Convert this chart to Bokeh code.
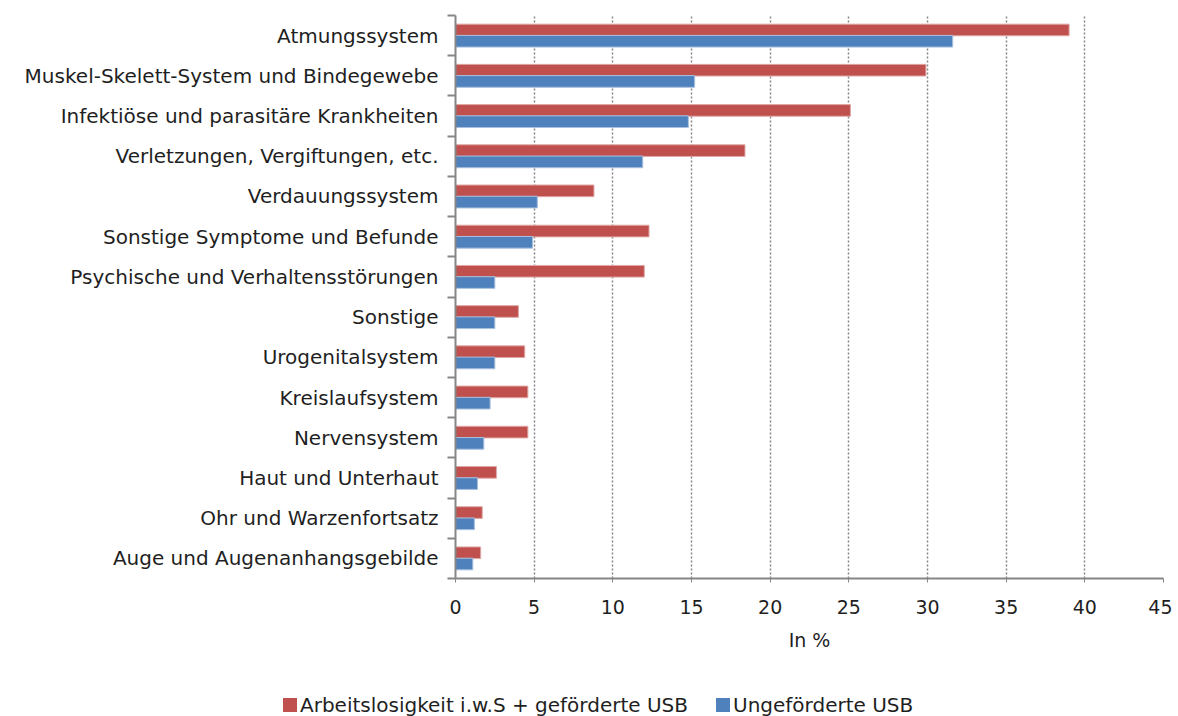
from bokeh.plotting import figure
from bokeh.layouts import column
from bokeh.models import (Range1d, LinearAxis, FixedTicker, ColumnDataSource, Div)
from bokeh.transform import dodge
from bokeh.embed import file_html
from bokeh.resources import INLINE

categories = [
    "Atmungssystem",
    "Muskel-Skelett-System und Bindegewebe",
    "Infektiöse und parasitäre Krankheiten",
    "Verletzungen, Vergiftungen, etc.",
    "Verdauungssystem",
    "Sonstige Symptome und Befunde",
    "Psychische und Verhaltensstörungen",
    "Sonstige",
    "Urogenitalsystem",
    "Kreislaufsystem",
    "Nervensystem",
    "Haut und Unterhaut",
    "Ohr und Warzenfortsatz",
    "Auge und Augenanhangsgebilde",
]
arbeitslos_gefoerdert = [39.0, 29.9, 25.1, 18.4, 8.8, 12.3, 12.0, 4.0, 4.4, 4.6, 4.6, 2.6, 1.7, 1.6]
ungefoerdert = [31.6, 15.2, 14.8, 11.9, 5.2, 4.9, 2.5, 2.5, 2.5, 2.2, 1.8, 1.4, 1.2, 1.1]
x_ticks = [0, 5, 10, 15, 20, 25, 30, 35, 40, 45]
series_names = ["Arbeitslosigkeit i.w.S + geförderte USB", "Ungeförderte USB"]

FONT = "DejaVu Sans"
TXT = "#1f1f1f"
AXC = "#868686"
RED = "#C0504D"
BLUE = "#4F81BD"
RED_EDGE = "#DFA8A6"
BLUE_EDGE = "#A9C0DE"

n = len(categories)
positions = list(range(n - 1, -1, -1))  # top category highest
src = ColumnDataSource(dict(pos=positions, a=arbeitslos_gefoerdert, b=ungefoerdert))

p = figure(width=1172, height=664, output_backend="svg", toolbar_location=None,
           y_range=Range1d(-0.5, n - 0.5), x_range=Range1d(0, 45),
           y_axis_location=None, x_axis_location=None,
           min_border_left=455, min_border_right=9, min_border_top=15, min_border_bottom=86)
p.outline_line_color = None
p.background_fill_color = "white"
p.border_fill_color = "white"

p.hbar(y=dodge("pos", 0.14), right="a", left=0, height=0.29,
       source=src, fill_color=RED, line_color=RED_EDGE, line_width=1)
p.hbar(y=dodge("pos", -0.14), right="b", left=0, height=0.29,
       source=src, fill_color=BLUE, line_color=BLUE_EDGE, line_width=1)

# tick axis with marks at the category boundaries
tick_axis = LinearAxis(ticker=FixedTicker(ticks=[k - 0.5 for k in range(n + 1)]),
                       major_label_text_font_size="0px", major_label_text_color=None,
                       major_label_standoff=0,
                       axis_line_color=AXC, axis_line_width=2,
                       major_tick_line_color=AXC, major_tick_line_width=2,
                       major_tick_out=8, major_tick_in=0,
                       minor_tick_line_color=None)
p.add_layout(tick_axis, "left")

cat_axis = LinearAxis(ticker=FixedTicker(ticks=positions),
                      major_label_overrides={pos: name for pos, name in zip(positions, categories)},
                      axis_line_color=None, major_tick_line_color=None,
                      major_tick_out=0, major_tick_in=0,
                      major_label_standoff=9,
                      major_label_text_font=FONT, major_label_text_font_size="20px",
                      major_label_text_color=TXT, minor_tick_line_color=None)
p.add_layout(cat_axis, "left")

x_axis = LinearAxis(ticker=FixedTicker(ticks=x_ticks), axis_label="In %",
                    axis_label_text_font=FONT, axis_label_text_font_size="19px",
                    axis_label_text_font_style="normal", axis_label_text_color=TXT,
                    axis_label_standoff=12,
                    major_label_text_font=FONT, major_label_text_font_size="19px",
                    major_label_text_color=TXT, major_label_standoff=17,
                    axis_line_color=AXC, axis_line_width=2,
                    major_tick_line_color=AXC, major_tick_line_width=1,
                    major_tick_out=4, major_tick_in=0, minor_tick_line_color=None)
p.add_layout(x_axis, "below")

p.xgrid.ticker = FixedTicker(ticks=x_ticks)
p.xgrid.grid_line_color = AXC
p.xgrid.grid_line_dash = "2 2"
p.xgrid.grid_line_width = 1.5
p.ygrid.grid_line_color = None

# legend strip below the chart (positioned independently of the plot frame)
def swatch(color, lead):
    return (f'<span style="display:inline-block;flex:none;width:14px;height:14px;'
            f'background:{color};margin-left:{lead}px;margin-right:3px"></span>')

legend_html = (
    f'<div style="display:flex;align-items:center;height:24px;margin-top:29px;'
    f'padding-left:283px;font-family:\'{FONT}\';font-size:20px;color:{TXT};white-space:nowrap">'
    + swatch(RED, 0) + f'<span>{series_names[0]}</span>'
    + swatch(BLUE, 28) + f'<span>{series_names[1]}</span>'
    + '</div>'
)
legend_div = Div(text=legend_html, width=1172, height=52, margin=(0, 0, 0, 0))

layout = column(p, legend_div, spacing=0)
open("out.html", "w").write(file_html(layout, INLINE))
